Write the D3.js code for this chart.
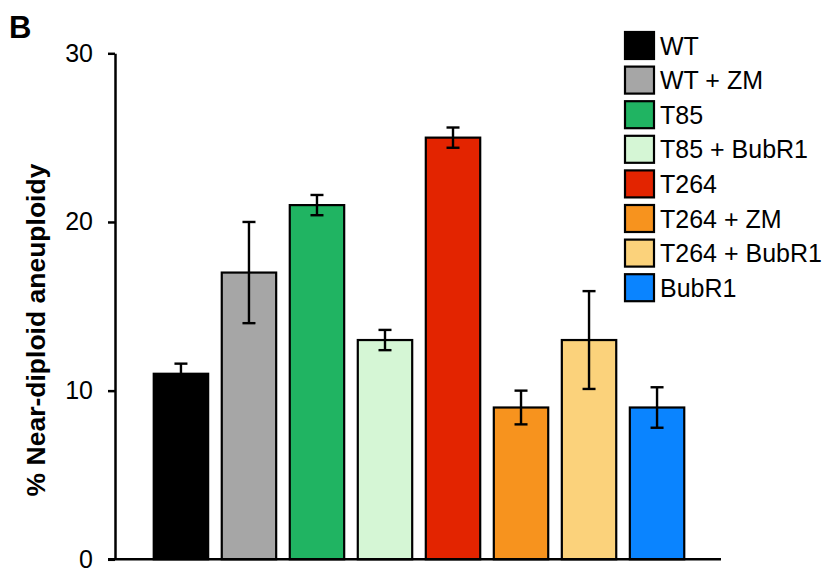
<!DOCTYPE html>
<html>
<head>
<meta charset="utf-8">
<script src="https://cdn.jsdelivr.net/npm/d3@7"></script>
<style>
  html, body { margin: 0; padding: 0; background: #fff; }
  svg { display: block; }
  text { font-family: Arial, "Liberation Sans", Helvetica, sans-serif; fill: #000; }
</style>
</head>
<body>
<svg id="chart" width="828" height="571"></svg>
<script>
const categories = ["WT", "WT + ZM", "T85", "T85 + BubR1", "T264", "T264 + ZM", "T264 + BubR1", "BubR1"];
const values     = [11, 17, 21, 13, 25, 9, 13, 9];
const errors     = [0.6, 3.0, 0.6, 0.6, 0.6, 1.0, 2.9, 1.2];
const colors     = ["#000000", "#a6a6a6", "#20b462", "#d5f6d5", "#e32400", "#f7931e", "#fbd27b", "#0a84ff"];
const yTicks     = [0, 10, 20, 30];

const svg = d3.select("#chart");

const x = d3.scaleBand()
  .domain(categories)
  .range([116, 722])
  .paddingInner(0.2)
  .paddingOuter(0.555);

const y = d3.scaleLinear()
  .domain([0, 30])
  .range([559.3, 53.3]);

// Bars
svg.append("g").selectAll("rect")
  .data(categories)
  .join("rect")
  .attr("x", d => x(d))
  .attr("y", (d, i) => y(values[i]))
  .attr("width", x.bandwidth())
  .attr("height", (d, i) => y(0) - y(values[i]))
  .attr("fill", (d, i) => colors[i])
  .attr("stroke", "#000")
  .attr("stroke-width", 2.2);

// Error bars
const eg = svg.append("g").attr("stroke", "#000").attr("stroke-width", 2.4).attr("fill", "none");
categories.forEach((c, i) => {
  const cx = x(c) + x.bandwidth() / 2;
  const top = y(values[i] + errors[i]);
  const bot = y(values[i] - errors[i]);
  const cap = 6.5;
  eg.append("line").attr("x1", cx).attr("x2", cx).attr("y1", top).attr("y2", bot);
  eg.append("line").attr("x1", cx - cap).attr("x2", cx + cap).attr("y1", top).attr("y2", top);
  eg.append("line").attr("x1", cx - cap).attr("x2", cx + cap).attr("y1", bot).attr("y2", bot);
});

// Y axis
const yAxis = d3.axisLeft(y)
  .tickValues(yTicks)
  .tickSize(7)
  .tickSizeOuter(0)
  .tickPadding(15)
  .tickFormat(d3.format("d"));

const ag = svg.append("g")
  .attr("transform", "translate(115,0)")
  .call(yAxis);
ag.select(".domain").attr("stroke", "#000").attr("stroke-width", 2.5);
ag.selectAll(".tick line").attr("stroke", "#000").attr("stroke-width", 2.5);
ag.selectAll(".tick text")
  .style("font-family", "Arial, 'Liberation Sans', sans-serif")
  .style("font-size", "25px")
  .attr("fill", "#000");

// X baseline
svg.append("line")
  .attr("x1", 108).attr("x2", 721)
  .attr("y1", y(0)).attr("y2", y(0))
  .attr("stroke", "#000").attr("stroke-width", 2.5);

// Y axis title
svg.append("text")
  .attr("transform", `translate(45,${330}) rotate(-90)`)
  .attr("text-anchor", "middle")
  .style("font-size", "26.5px")
  .style("font-weight", "bold")
  .text("% Near-diploid aneuploidy");

// Panel letter
svg.append("text")
  .attr("x", 9).attr("y", 38)
  .style("font-size", "31px")
  .style("font-weight", "bold")
  .text("B");

// Legend
const lg = svg.append("g");
const rowH = 34.6;
categories.forEach((c, i) => {
  const yy = 32 + i * rowH;
  lg.append("rect")
    .attr("x", 625).attr("y", yy)
    .attr("width", 29).attr("height", 27)
    .attr("fill", colors[i])
    .attr("stroke", "#000")
    .attr("stroke-width", 2.2);
  lg.append("text")
    .attr("x", 660).attr("y", yy + 13.5)
    .attr("dy", "0.36em")
    .style("font-size", "25px")
    .text(c);
});
</script>
</body>
</html>
